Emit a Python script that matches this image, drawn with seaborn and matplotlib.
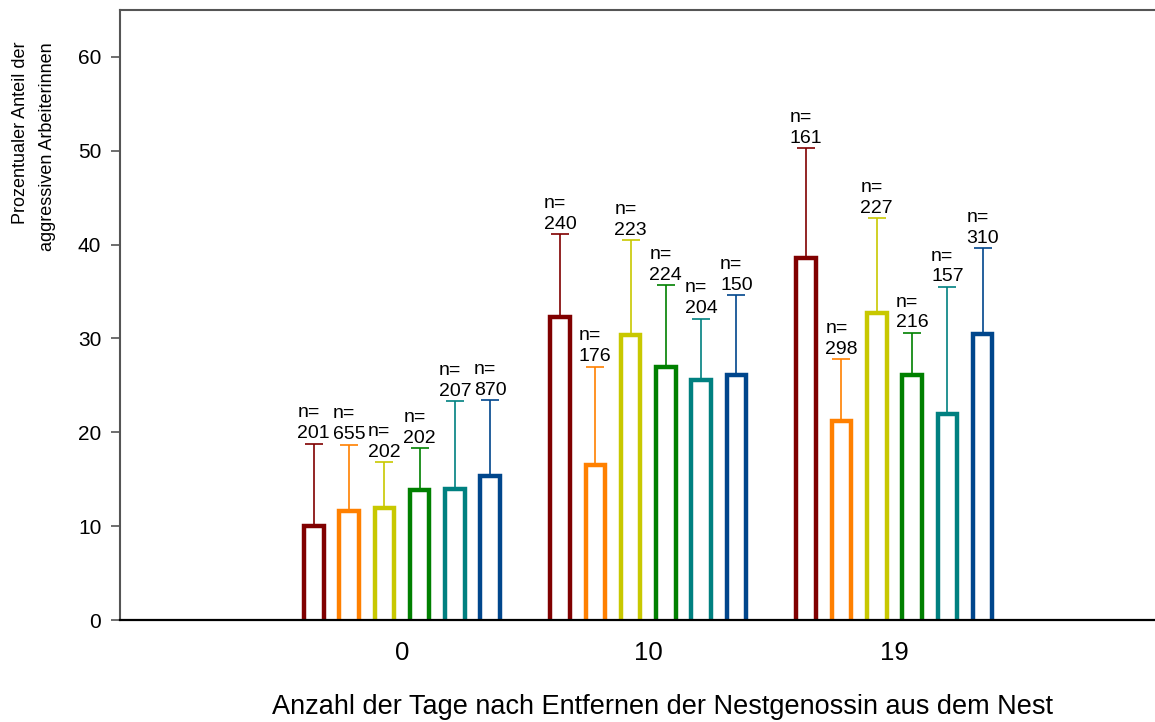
import numpy as np
import pandas as pd
import matplotlib
matplotlib.use("Agg")
import matplotlib.pyplot as plt
import seaborn as sns

# Days after removal of the nestmate (x categories)
days = ["0", "10", "19"]
# Six colonies / series, drawn in this order within each day
series = ["S1", "S2", "S3", "S4", "S5", "S6"]
colors = ["#800000", "#FF8000", "#C8C800", "#008000", "#008080", "#00468C"]

# Percentage of aggressive workers (mean) per day, one list per series
mean_s1 = [10.0, 32.3, 38.6]
mean_s2 = [11.6, 16.5, 21.2]
mean_s3 = [11.9, 30.4, 32.7]
mean_s4 = [13.9, 27.0, 26.1]
mean_s5 = [14.0, 25.6, 22.0]
mean_s6 = [15.3, 26.1, 30.5]

# Upper end of the error bars
upper_s1 = [18.8, 41.1, 50.3]
upper_s2 = [18.7, 27.0, 27.8]
upper_s3 = [16.8, 40.5, 42.8]
upper_s4 = [18.3, 35.7, 30.6]
upper_s5 = [23.3, 32.1, 35.5]
upper_s6 = [23.4, 34.6, 39.6]

# Sample sizes
n_s1 = [201, 240, 161]
n_s2 = [655, 176, 298]
n_s3 = [202, 223, 227]
n_s4 = [202, 224, 216]
n_s5 = [207, 204, 157]
n_s6 = [870, 150, 310]

means = [mean_s1, mean_s2, mean_s3, mean_s4, mean_s5, mean_s6]
uppers = [upper_s1, upper_s2, upper_s3, upper_s4, upper_s5, upper_s6]
ns = [n_s1, n_s2, n_s3, n_s4, n_s5, n_s6]

rows = []
for s, m_list, u_list, n_list in zip(series, means, uppers, ns):
    for d, m, u, n in zip(days, m_list, u_list, n_list):
        rows.append({"day": d, "series": s, "mean": m, "upper": u, "n": n})
df = pd.DataFrame(rows)

sns.set_style("white")
plt.rcParams["font.family"] = ["Liberation Sans", "DejaVu Sans"]
plt.rcParams["text.color"] = "black"
plt.rcParams["axes.labelcolor"] = "black"

fig = plt.figure(figsize=(11.55, 7.22), dpi=100)
ax = fig.add_axes([120 / 1155, 1 - 620 / 722, 1 - 120 / 1155, (620 - 10) / 722])

sns.barplot(
    data=df, x="day", y="mean", hue="series",
    order=days, hue_order=series, palette=colors,
    fill=False, linewidth=3.2, width=0.86, gap=0.447,
    errorbar=None, legend=False, ax=ax,
)

# Open-bottom bars: push each bar's base just below the axis so the base edge is clipped
for container, col, s_upper, s_mean, s_n in zip(ax.containers, colors, uppers, means, ns):
    xs = []
    for patch in container.patches:
        patch.set_y(-1.5)
        patch.set_height(patch.get_height() + 1.5)
        patch.set_edgecolor(col)
        xs.append(patch.get_x() + patch.get_width() / 2)
    xs = np.array(xs)
    m = np.array(s_mean)
    u = np.array(s_upper)
    ax.errorbar(xs, m, yerr=[np.zeros_like(m), u - m], fmt="none",
                ecolor=col, elinewidth=1.2, capsize=6.5, capthick=1.2, zorder=0.5)
    for x, top, n in zip(xs, u, s_n):
        ax.annotate(f"n=\n{n}", xy=(x, top), xytext=(0, 1), textcoords="offset points",
                    ha="center", va="bottom", multialignment="left",
                    fontsize=14, linespacing=1.3, color="black")

ax.set_ylim(0, 65)
ax.set_xlim(-1.1454, 3.0585)
ax.set_yticks([0, 10, 20, 30, 40, 50, 60])
ax.tick_params(axis="y", which="both", direction="out", length=6.5, width=1.2,
               color="#555555", labelcolor="black", labelsize=15, pad=7, left=True)
ax.tick_params(axis="x", length=0, labelsize=18.5, labelcolor="black", pad=15)

for side in ["left", "top"]:
    ax.spines[side].set_color("#555555")
    ax.spines[side].set_linewidth(1.5)
ax.spines["bottom"].set_color("black")
ax.spines["bottom"].set_linewidth(1.6)
ax.spines["right"].set_visible(False)

ax.set_xlabel("Anzahl der Tage nach Entfernen der Nestgenossin aus dem Nest",
              fontsize=19.5)
ax.xaxis.set_label_coords(0.5237, -0.1213)
ax.xaxis.label.set_va("top")
ax.set_ylabel("")
fig.text(34 / 1155, 1 - 42 / 722, "Prozentualer Anteil der\naggressiven Arbeiterinnen",
         rotation=90, ha="center", va="top", multialignment="right",
         fontsize=13, linespacing=1.7)

fig.savefig("out.png", dpi=100)
